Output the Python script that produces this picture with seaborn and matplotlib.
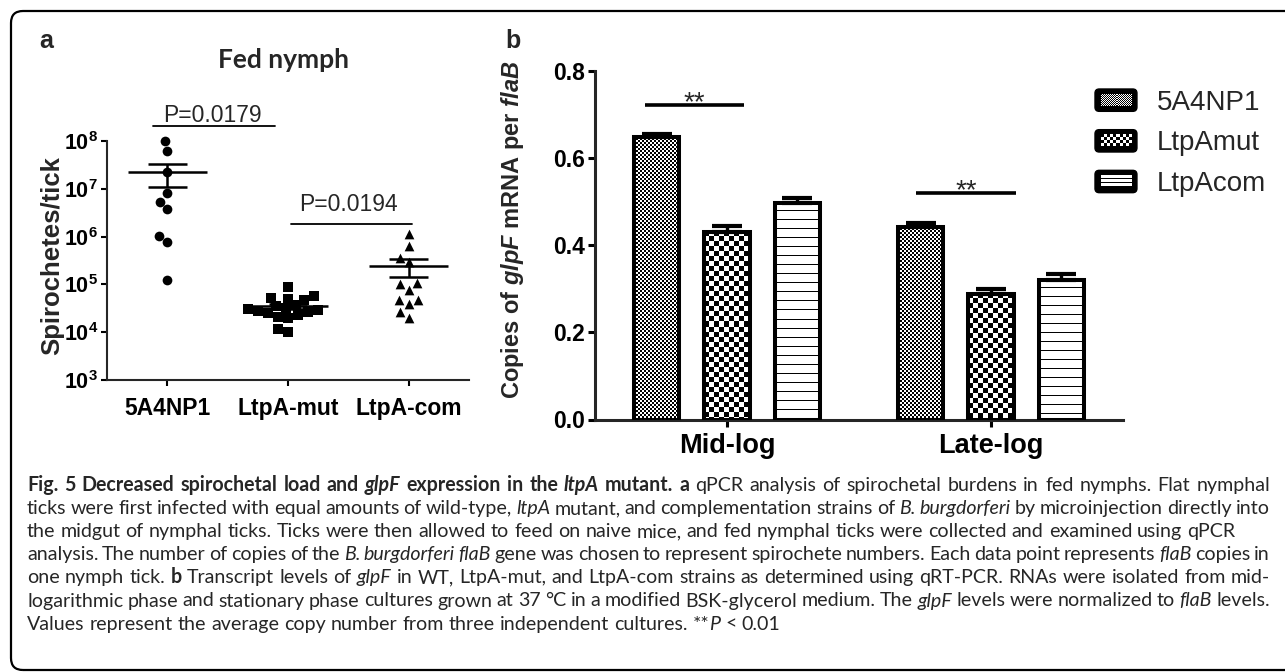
import numpy as np
import pandas as pd
import seaborn as sns
import matplotlib.pyplot as plt
from matplotlib.colors import Normalize
from matplotlib.image import BboxImage
from matplotlib.legend_handler import HandlerBase
from matplotlib.patches import FancyBboxPatch, Rectangle
from matplotlib.ticker import NullLocator
from matplotlib.transforms import Bbox, IdentityTransform, TransformedBbox

W, H, DPI = 1285, 672, 100

# panel a: spirochetes per tick, log10 values
strains_a = ["5A4NP1", "LtpA-mut", "LtpA-com"]
log_wt = [7.99, 7.79, 7.35, 6.91, 6.72, 6.58, 6.01, 5.89, 5.09]
log_mut = [4.95, 4.76, 4.72, 4.70, 4.68, 4.56, 4.54, 4.50, 4.48,
           4.46, 4.44, 4.42, 4.40, 4.36, 4.32, 4.30, 4.07, 4.00]
log_com = [6.06, 5.80, 5.56, 5.47, 5.02, 5.00, 4.89, 4.68, 4.67, 4.60, 4.42, 4.30]
p_labels = ["P=0.0179", "P=0.0194"]

# panel b: glpF copies per flaB
phases = ["Mid-log", "Late-log"]
strains_b = ["5A4NP1", "LtpAmut", "LtpAcom"]
glpf_mid = [0.648, 0.429, 0.496]
glpf_late = [0.442, 0.288, 0.320]
sem_mid = [0.007, 0.014, 0.012]
sem_late = [0.008, 0.011, 0.014]
fills = ["fine", "coarse", "lines"]

caption = [
    ([("b", "Fig. 5 Decreased spirochetal load and "), ("bi", "glpF"), ("b", " expression in the "),
      ("bi", "ltpA"), ("b", " mutant."), ("r", "  "), ("b", "a"),
      ("r", " qPCR analysis of spirochetal burdens in fed nymphs. Flat nymphal")], True),
    ([("r", "ticks were first infected with equal amounts of wild-type, "), ("i", "ltpA"),
      ("r", " mutant, and complementation strains of "), ("i", "B. burgdorferi"),
      ("r", " by microinjection directly into")], True),
    ([("r", "the midgut of nymphal ticks. Ticks were then allowed to feed on naive mice, "
            "and fed nymphal ticks were collected and examined using qPCR")], False),
    ([("r", "analysis. The number of copies of the "), ("i", "B. burgdorferi flaB"),
      ("r", " gene was chosen to represent spirochete numbers. Each data point represents "),
      ("i", "flaB"), ("r", " copies in")], True),
    ([("r", "one nymph tick. "), ("b", "b"), ("r", " Transcript levels of "), ("i", "glpF"),
      ("r", " in WT, LtpA-mut, and LtpA-com strains as determined using qRT-PCR. "
            "RNAs were isolated from mid-")], True),
    ([("r", "logarithmic phase and stationary phase cultures grown at 37 °C in a modified "
            "BSK-glycerol medium. The "), ("i", "glpF"), ("r", " levels were normalized to "),
      ("i", "flaB"), ("r", " levels.")], True),
    ([("r", "Values represent the average copy number from three independent cultures. **"),
      ("i", "P"), ("r", " < 0.01")], False),
]

sns.set_theme(style="ticks")
plt.rcParams["font.family"] = ["Liberation Sans", "DejaVu Sans"]
plt.rcParams["mathtext.fontset"] = "custom"
plt.rcParams["mathtext.rm"] = "Liberation Sans:bold"
plt.rcParams["mathtext.bf"] = "Liberation Sans:bold:italic"
CAP_FONT = ["Lato", "DejaVu Sans"]


def pattern(kind, h, w, legend=False):
    yy, xx = np.mgrid[0:h, 0:w]
    if kind == "fine":
        c = 1 if legend else 2
        return ((xx // c + yy // c) % 2).astype(float)
    if kind == "coarse":
        c = 3 if legend else 5
        return ((xx // c + yy // c) % 2).astype(float)
    step = max(h // 3, 3) if legend else 9
    return np.where(yy % step == step - 1, 0.0, 1.0)


class PatternHandler(HandlerBase):
    def __init__(self, kind):
        super().__init__()
        self.kind = kind

    def create_artists(self, legend, orig_handle, xdescent, ydescent, width, height, fontsize, trans):
        x, y = -xdescent, -ydescent
        box = FancyBboxPatch((x, y), width, height, boxstyle="round,pad=0,rounding_size=3",
                             fc="black", ec="black", lw=1, transform=trans)
        inner = TransformedBbox(Bbox.from_bounds(x + 4, y + 4, width - 8, height - 8), trans)
        img = BboxImage(inner, cmap="gray", norm=Normalize(0, 1), interpolation="nearest")
        img.set_data(pattern(self.kind, 12, 30, legend=True))
        return [box, img]


fig = plt.figure(figsize=(W / DPI, H / DPI), dpi=DPI)
fig.patch.set_facecolor("white")
renderer = fig.canvas.get_renderer()

# frame round the whole figure
fig.add_artist(FancyBboxPatch((11, 2), 1320, 659, boxstyle="round,pad=0,rounding_size=12",
                              transform=IdentityTransform(), fc="none", ec="black", lw=1.6))

# ---------------- panel a
ax_a = fig.add_axes([107 / W, 1 - 380 / H, 362 / W, 239 / H])
df_a = pd.DataFrame({
    "strain": np.repeat(strains_a, [len(log_wt), len(log_mut), len(log_com)]),
    "load": 10 ** np.array(log_wt + log_mut + log_com),
})
for strain, mk in zip(strains_a, ["o", "s", "^"]):
    sns.swarmplot(data=df_a[df_a["strain"] == strain], x="strain", y="load", order=strains_a,
                  marker=mk, color="black", size=7, linewidth=0, ax=ax_a, log_scale=True,
                  zorder=3)
for coll in ax_a.collections:
    coll.set_clip_on(False)

for i, strain in enumerate(strains_a):
    v = df_a.loc[df_a["strain"] == strain, "load"]
    m = v.mean()
    se = v.std(ddof=1) / np.sqrt(len(v))
    ax_a.hlines(m, i - 0.33, i + 0.33, color="black", lw=1.8, zorder=2)
    ax_a.hlines([m - se, m + se], i - 0.16, i + 0.16, color="black", lw=1.8, zorder=2)
    ax_a.vlines(i, m - se, m + se, color="black", lw=1.8, zorder=2)

ax_a.set_xlim(-0.5, 2.5)
ax_a.set_ylim(1e3, 1e8)
ax_a.set_yticks([10.0 ** k for k in range(3, 9)])
ax_a.set_yticklabels([r"$\mathrm{10^{%d}}$" % k for k in range(3, 9)], fontsize=15.5)
ax_a.yaxis.set_minor_locator(NullLocator())
ax_a.set_xlabel("")
ax_a.set_ylabel("Spirochetes/tick", fontsize=18.5, fontweight="bold")
ax_a.yaxis.set_label_coords(-0.118, 0.52)
ax_a.set_xticks(range(3))
ax_a.set_xticklabels(strains_a, fontweight="bold", fontsize=16.5)
sns.despine(ax=ax_a)
for s in ("left", "bottom"):
    ax_a.spines[s].set_linewidth(1.5)
ax_a.tick_params(width=1.5, length=4.5, pad=2, colors="black")
ax_a.tick_params(axis="x", pad=8)

# significance bars
ax_a.plot([-0.117, 0.89], [10 ** 8.32] * 2, color="black", lw=1.3, clip_on=False)
ax_a.text(0.375, 10 ** 8.40, p_labels[0], ha="center", va="baseline", fontsize=16.5, clip_on=False)
ax_a.plot([1.025, 2.03], [10 ** 6.26] * 2, color="black", lw=1.3, clip_on=False)
ax_a.text(1.5, 10 ** 6.54, p_labels[1], ha="center", va="baseline", fontsize=16.5, clip_on=False)

fig.text(283 / W, 1 - 68 / H, "Fed nymph", family=CAP_FONT, fontweight="bold", fontsize=19,
         ha="center", va="baseline")
fig.text(39 / W, 1 - 48 / H, "a", fontweight="bold", fontsize=18, va="baseline")
fig.text(505 / W, 1 - 48 / H, "b", fontweight="bold", fontsize=18, va="baseline")

# ---------------- panel b
ax_b = fig.add_axes([595 / W, 1 - 419.5 / H, 528 / W, 348.8 / H])
df_b = pd.DataFrame({
    "phase": np.repeat(phases, len(strains_b)),
    "strain": strains_b * len(phases),
    "ratio": glpf_mid + glpf_late,
    "sem": sem_mid + sem_late,
})
sns.barplot(data=df_b, x="phase", y="ratio", hue="strain", order=phases, hue_order=strains_b,
            errorbar=None, gap=0.35, palette=["white"] * 3, legend=False, ax=ax_b)
ax_b.set_xlim(-0.5, 1.5)
ax_b.set_ylim(0, 0.8)

bar_groups = list(ax_b.containers)
for strain, kind, cont in zip(strains_b, fills, bar_groups):
    sems = df_b.loc[df_b["strain"] == strain, "sem"].to_numpy()
    xs, ys = [], []
    for bar in cont:
        x0, w, h = bar.get_x(), bar.get_width(), bar.get_height()
        p0 = ax_b.transData.transform((x0, 0))
        p1 = ax_b.transData.transform((x0 + w, h))
        arr = pattern(kind, int(round(p1[1] - p0[1])), int(round(p1[0] - p0[0])))
        ax_b.imshow(arr, cmap="gray", vmin=0, vmax=1, extent=(x0, x0 + w, 0, h),
                    aspect="auto", interpolation="nearest", zorder=2)
        bar.set_facecolor("none")
        bar.set_edgecolor("black")
        bar.set_linewidth(2.9)
        bar.set_zorder(3)
        xs.append(x0 + w / 2)
        ys.append(h)
    ax_b.errorbar(xs, ys, yerr=[np.zeros(len(sems)), sems], fmt="none", ecolor="black",
                  elinewidth=2.4, capsize=11, capthick=3, zorder=4)

ax_b.set_xlim(-0.5, 1.5)
ax_b.set_ylim(0, 0.8)
ax_b.set_yticks([0.0, 0.2, 0.4, 0.6, 0.8])
ax_b.set_yticklabels(["0.0", "0.2", "0.4", "0.6", "0.8"], fontsize=16.5, fontweight="bold")
ax_b.set_xticks(range(len(phases)))
ax_b.set_xticklabels(phases, fontweight="bold", fontsize=19.5)
ax_b.set_xlabel("")
ax_b.set_ylabel(r"Copies of $\mathbf{glpF}$ mRNA per $\mathbf{flaB}$", fontsize=17,
                fontweight="bold")
ax_b.yaxis.set_label_coords((526 - 595) / 528, 0.543)
sns.despine(ax=ax_b)
for s in ("left", "bottom"):
    ax_b.spines[s].set_linewidth(2.2)
ax_b.tick_params(width=2.2, length=5, pad=2, colors="black")
ax_b.tick_params(axis="x", pad=5)

for x_lo, x_hi, y in [(-0.31, 0.065, 0.721), (0.715, 1.095, 0.52)]:
    ax_b.plot([x_lo, x_hi], [y, y], color="black", lw=2.6, solid_capstyle="butt")
    ax_b.text((x_lo + x_hi) / 2, y - 0.012, "**", ha="center", va="baseline", fontsize=20)

handles = [Rectangle((0, 0), 1, 1) for _ in strains_b]
ax_b.legend(handles, strains_b, handler_map={h: PatternHandler(k) for h, k in zip(handles, fills)},
            loc="upper left", bbox_to_anchor=(1095 / W, 1 - 89 / H), bbox_transform=fig.transFigure,
            frameon=False, fontsize=20, handlelength=1.51, handleheight=0.86, handletextpad=0.7,
            labelspacing=0.5, borderpad=0, borderaxespad=0)

# ---------------- caption
STYLE = {"r": ("normal", "normal"), "i": ("normal", "italic"),
         "b": ("bold", "normal"), "bi": ("bold", "italic")}
CAP_SIZE = 14.15


def cap_text(x, y, s, style):
    weight, slant = STYLE[style]
    return fig.text(x / W, 1 - y / H, s, family=CAP_FONT, fontsize=CAP_SIZE, fontweight=weight,
                    fontstyle=slant, ha="left", va="baseline")


probe = [cap_text(0, -50, s, "r") for s in ("n n", "nn")]
space = probe[0].get_window_extent(renderer).width - probe[1].get_window_extent(renderer).width
for t in probe:
    t.remove()

left, right, base, step = 27, 1270, 491, 23.1
for row, (segs, justify) in enumerate(caption):
    words, cur = [], []
    for style, txt in segs:
        for ch in txt:
            if ch == " ":
                if cur:
                    words.append(cur)
                    cur = []
            elif cur and cur[-1][0] == style:
                cur[-1][1] += ch
            else:
                cur.append([style, ch])
    if cur:
        words.append(cur)
    y = base + row * step
    placed = []
    for word in words:
        parts = []
        for style, s in word:
            t = cap_text(0, y, s, style)
            parts.append((t, t.get_window_extent(renderer).width))
        placed.append(parts)
    total = sum(wd for parts in placed for _, wd in parts)
    gap = (right - left - total) / (len(placed) - 1) if justify else space
    x = left
    for parts in placed:
        for t, wd in parts:
            t.set_x(x / W)
            x += wd
        x += gap

fig.savefig("out.png", dpi=DPI)
